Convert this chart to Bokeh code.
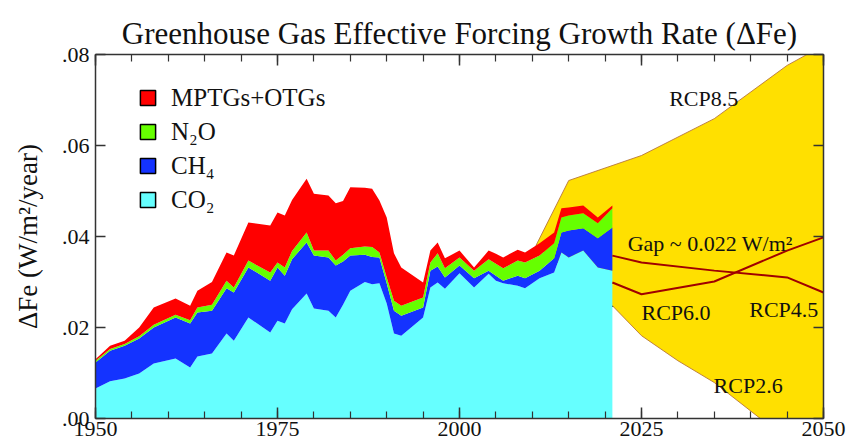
import numpy as np
from bokeh.plotting import figure
from bokeh.models import (ColumnDataSource, FixedTicker, LinearAxis, Range1d, Legend,
                          LegendItem, Whisker, TeeHead)
from bokeh.core.properties import value
from bokeh.embed import file_html
from bokeh.resources import INLINE

# ---------------- data ----------------
years = [1950, 1952, 1954, 1956, 1958, 1961, 1963, 1964, 1966, 1968, 1969, 1971, 1974, 1975,
         1976, 1977, 1979, 1980, 1982, 1983, 1984, 1985, 1987, 1988, 1989, 1990, 1991, 1992,
         1995, 1996, 1997, 1998, 2000, 2002, 2004, 2005, 2006, 2008, 2009, 2011, 2013, 2014,
         2015, 2017, 2019, 2021]
co2 = [.0066, .0082, .0088, .0099, .0121, .0132, .0112, .0136, .0143, .0187, .0171, .0222, .0189, .0215,
       .0209, .0240, .0275, .0242, .0237, .0222, .0250, .0281, .0300, .0295, .0297, .0253, .0187, .0182,
       .0222, .0288, .0299, .0285, .0319, .0288, .0318, .0303, .0297, .0292, .0286, .0308, .0321, .0365,
       .0354, .0369, .0332, .0325]
ch4 = [.0057, .0067, .0072, .0077, .0079, .0090, .0097, .0097, .0094, .0099, .0106, .0110, .0114, .0117,
       .0105, .0110, .0112, .0116, .0117, .0114, .0095, .0077, .0060, .0060, .0057, .0044, .0050, .0044,
       .0022, .0037, .0035, .0025, .0017, .0020, .0007, .0011, .0006, .0022, .0022, .0017, .0031, .0044,
       .0059, .0049, .0064, .0095]
n2o = [.0004, .0004, .0004, .0005, .0006, .0006, .0007, .0011, .0013, .0017, .0011, .0015, .0018, .0011,
       .0018, .0018, .0022, .0011, .0015, .0011, .0015, .0016, .0018, .0022, .0011, .0013, .0022, .0022,
       .0022, .0018, .0029, .0020, .0018, .0017, .0025, .0026, .0027, .0033, .0035, .0033, .0033, .0033,
       .0033, .0033, .0033, .0042]
other = [.0003, .0007, .0007, .0019, .0038, .0036, .0032, .0037, .0050, .0062, .0070, .0084, .0103, .0110,
         .0114, .0112, .0118, .0125, .0121, .0126, .0118, .0134, .0129, .0128, .0114, .0132, .0104, .0084,
         .0033, .0026, .0024, .0022, .0015, .0007, .0019, .0022, .0024, .0024, .0022, .0027, .0024, .0020,
         .0018, .0017, .0013, .0006]

gas_names = ["CO\u2082", "CH\u2084", "N\u2082O", "MPTGs+OTGs"]
gas_colors = ["#66FFFF", "#1433FF", "#66FF00", "#FF0000"]

rcp_hi_years = [2010.5, 2015, 2025, 2035, 2045, 2047.5, 2050]
rcp_hi = [0.0380, 0.0523, 0.0578, 0.0659, 0.0776, 0.0798, 0.0825]
rcp_lo_years = [2021, 2025, 2030, 2035, 2041, 2045, 2050]
rcp_lo = [0.0248, 0.0182, 0.0127, 0.0079, 0.0004, -0.0045, -0.0105]
rcp45_years = [2021, 2025, 2035, 2045, 2050]
rcp45 = [0.0358, 0.0343, 0.0325, 0.0310, 0.0277]
rcp60_years = [2021, 2025, 2035, 2045, 2050]
rcp60 = [0.0299, 0.0273, 0.0301, 0.0369, 0.0398]

gap_year = [2021.7]
gap_low = [0.0248]
gap_high = [0.0475]

note_x = [2028.8, 2023.1, 2025.0, 2039.8, 2034.9]
note_y = [0.0703, 0.0385, 0.0233, 0.0240, 0.0073]
note_text = ["RCP8.5", "Gap ~ 0.022 W/m\u00b2", "RCP6.0", "RCP4.5", "RCP2.6"]

x_ticks = [1950, 1975, 2000, 2025, 2050]
x_minor = [y for y in range(1950, 2051, 5)]
y_ticks = [0.0, 0.02, 0.04, 0.06, 0.08]
y_tick_labels = [".00", ".02", ".04", ".06", ".08"]

SERIF = "Liberation Serif"

# ---------------- figure ----------------
p = figure(width=850, height=445, x_range=Range1d(1950, 2050), y_range=Range1d(0, 0.08),
           output_backend="svg", toolbar_location=None,
           min_border_left=95, min_border_right=27, min_border_top=54, min_border_bottom=27,
           title="Greenhouse Gas Effective Forcing Growth Rate (\u0394Fe)")
p.title.text_font = SERIF
p.title.text_font_size = "31px"
p.title.text_font_style = "normal"
p.title.text_color = "#111111"
p.title.align = "center"
p.title.standoff = 8
p.xgrid.visible = False
p.ygrid.visible = False
p.outline_line_color = None
p.background_fill_color = "white"

# RCP envelope
px = rcp_hi_years + rcp_lo_years[::-1]
py = rcp_hi + rcp_lo[::-1]
p.patch(px, py, fill_color="#FFE000", line_color="#B8763A", line_width=0.9)

# stacked history
src = ColumnDataSource(dict(year=years, co2=co2, ch4=ch4, n2o=n2o, other=other))
p.varea_stack(["co2", "ch4", "n2o", "other"], x="year", source=src, color=gas_colors)

# RCP4.5 / RCP6.0 lines
p.line(rcp45_years, rcp45, line_color="#A00000", line_width=2)
p.line(rcp60_years, rcp60, line_color="#A00000", line_width=2)

# gap bar
gsrc = ColumnDataSource(dict(x=gap_year, lo=gap_low, hi=gap_high))
w = Whisker(base="x", lower="lo", upper="hi", source=gsrc, dimension="height",
            line_color="black", line_width=2.5,
            upper_head=TeeHead(size=14, line_color="black", line_width=2.5),
            lower_head=TeeHead(size=14, line_color="black", line_width=2.5))
p.add_layout(w)

# text notes
p.text(x=note_x, y=note_y, text=note_text, text_font=value(SERIF), text_font_size="22px",
       text_color="#111111", text_baseline="alphabetic")

# legend (outlined squares); a NaN row so the legend glyph gets drawn, nothing in the plot
items = []
nan = float("nan")
for name, col in list(zip(gas_names, gas_colors))[::-1]:
    r = p.quad(top=[nan], bottom=[nan], left=[nan], right=[nan], fill_color=col,
               line_color="black", line_width=1.5)
    items.append(LegendItem(label=name, renderers=[r]))
leg = Legend(items=items, location=(43, 204), label_text_font=SERIF,
             label_text_font_size="25px", label_text_color="#111111",
             label_standoff=14, glyph_width=19, glyph_height=19, label_height=29,
             spacing=5, padding=0, margin=0, border_line_color=None,
             background_fill_alpha=0)
p.add_layout(leg)

# axes
def style_axis(ax, ticker, tick_in, minor_in, labels=True):
    ax.ticker = ticker
    ax.axis_line_color = "#333333"
    ax.axis_line_width = 1.5
    ax.major_tick_line_color = "#333333"
    ax.major_tick_line_width = 1.5
    ax.minor_tick_line_color = "#333333"
    ax.minor_tick_line_width = 1.2
    ax.major_tick_in = tick_in
    ax.major_tick_out = 0
    ax.minor_tick_in = minor_in
    ax.minor_tick_out = 0
    if labels:
        ax.major_label_text_font = SERIF
        ax.major_label_text_font_size = "22px"
        ax.major_label_text_color = "#111111"
    else:
        ax.major_label_text_font_size = "1px"
        ax.major_label_text_color = None
        ax.major_label_standoff = 0

xt = FixedTicker(ticks=x_ticks, minor_ticks=x_minor)
yt = FixedTicker(ticks=y_ticks, minor_ticks=[])

style_axis(p.xaxis[0], xt, 11, 7)
p.xaxis[0].major_label_standoff = 3
style_axis(p.yaxis[0], yt, 10, 0)
p.yaxis[0].major_label_overrides = dict(zip(y_ticks, y_tick_labels))
p.yaxis[0].major_label_standoff = 6
p.yaxis[0].axis_label = "\u0394Fe (W/m\u00b2/year)"
p.yaxis[0].axis_label_text_font = SERIF
p.yaxis[0].axis_label_text_font_size = "27px"
p.yaxis[0].axis_label_text_font_style = "normal"
p.yaxis[0].axis_label_text_color = "#111111"
p.yaxis[0].axis_label_standoff = 16

top_ax = LinearAxis()
style_axis(top_ax, FixedTicker(ticks=x_ticks, minor_ticks=x_minor), 11, 7, labels=False)
p.add_layout(top_ax, "above")
right_ax = LinearAxis()
style_axis(right_ax, FixedTicker(ticks=y_ticks, minor_ticks=[]), 10, 0, labels=False)
p.add_layout(right_ax, "right")

open("out.html", "w").write(file_html(p, INLINE))
